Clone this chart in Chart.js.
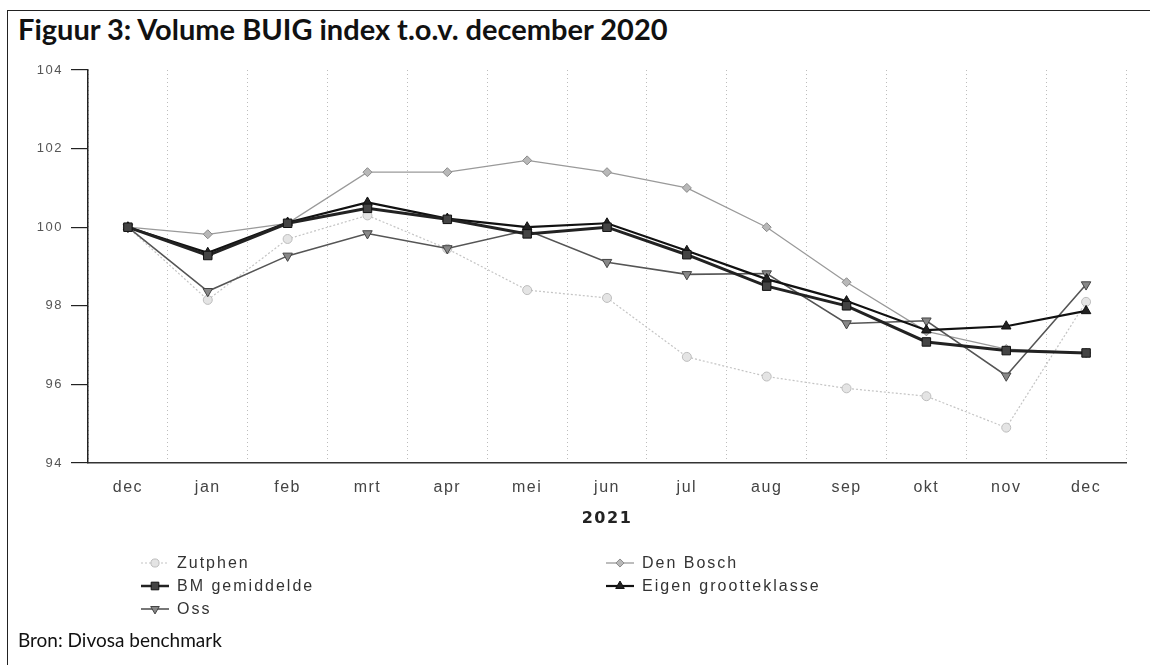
<!DOCTYPE html>
<html>
<head>
<meta charset="utf-8">
<script src="https://cdn.jsdelivr.net/npm/chart.js@4"></script>
<style>
  html, body { margin:0; padding:0; background:#fff; }
  #wrap { position:relative; width:1150px; height:665px; overflow:hidden; }
  #frame { position:absolute; left:7px; top:10px; width:1160px; height:670px; border:1.5px solid #222; box-sizing:border-box; }
  #title { position:absolute; left:18px; top:11px; font-family:Lato, 'Open Sans', sans-serif; font-weight:700; font-size:29px; color:#111; white-space:nowrap; }
  #source { position:absolute; left:18px; top:628px; font-family:Lato, 'Open Sans', sans-serif; font-size:19px; color:#111; white-space:nowrap; }
  canvas { position:absolute; left:0; top:0; }
</style>
</head>
<body>
<div id="wrap">
  <div id="frame"></div>
  <div id="title">Figuur 3: Volume BUIG index t.o.v. december 2020</div>
  <canvas id="c" width="1150" height="665"></canvas>
  <div id="source">Bron: Divosa benchmark</div>
</div>
<script>
const categories = ['dec','jan','feb','mrt','apr','mei','jun','jul','aug','sep','okt','nov','dec'];
const xAxisTitle = '2021';
const yTicks = [94, 96, 98, 100, 102, 104];

const zutphen    = [100, 98.15, 99.7, 100.3, 99.45, 98.4, 98.2, 96.7, 96.2, 95.9, 95.7, 94.9, 98.1];
const denBosch   = [100, 99.82, 100.1, 101.4, 101.4, 101.7, 101.4, 101.0, 100.0, 98.6, 97.35, 96.9, 96.8];
const bmGemidd   = [100, 99.28, 100.1, 100.48, 100.2, 99.83, 100.0, 99.3, 98.5, 98.0, 97.08, 96.86, 96.8];
const eigenGroot = [100, 99.35, 100.12, 100.63, 100.22, 100.0, 100.1, 99.4, 98.68, 98.12, 97.38, 97.48, 97.87];
const oss        = [100, 98.37, 99.27, 99.84, 99.46, 99.92, 99.11, 98.8, 98.82, 97.55, 97.62, 96.22, 98.54];

const seriesNames = ['Zutphen', 'Den Bosch', 'BM gemiddelde', 'Eigen grootteklasse', 'Oss'];

const datasets = [
  { label: seriesNames[0], data: zutphen, borderColor:'#c4c4c4', backgroundColor:'#e6e6e6', borderWidth:1.2, borderDash:[2,2],
    pointStyle:'circle', pointRadius:4.5, pointBorderColor:'#bdbdbd', pointBackgroundColor:'#e4e4e4', pointBorderWidth:1, order:4 },
  { label: seriesNames[1], data: denBosch, borderColor:'#9a9a9a', backgroundColor:'#b0b0b0', borderWidth:1.3,
    pointStyle:'rectRot', pointRadius:4.5, pointBorderColor:'#8a8a8a', pointBackgroundColor:'#b8b8b8', pointBorderWidth:1, order:3 },
  { label: seriesNames[2], data: bmGemidd, borderColor:'#222', backgroundColor:'#3a3a3a', borderWidth:3,
    pointStyle:'rect', pointRadius:6, pointBorderColor:'#111', pointBackgroundColor:'#444', pointBorderWidth:1, order:0 },
  { label: seriesNames[3], data: eigenGroot, borderColor:'#111', backgroundColor:'#111', borderWidth:2.2,
    pointStyle:'triangle', pointRadius:5.5, pointBorderColor:'#111', pointBackgroundColor:'#222', pointBorderWidth:1, order:1 },
  { label: seriesNames[4], data: oss, borderColor:'#555', backgroundColor:'#777', borderWidth:1.6,
    pointStyle:'triangle', pointRotation:180, rotation:180, pointRadius:5.5, pointBorderColor:'#444', pointBackgroundColor:'#888', pointBorderWidth:1, order:2 }
];
datasets.forEach(d => { d.tension = 0; d.fill = false; });

const legendPlugin = {
  id: 'customLegend',
  afterDraw(chart) {
    const ctx = chart.ctx;
    ctx.save();
    chart.data.datasets.forEach((ds, i) => {
      const col = i % 2, row = Math.floor(i / 2);
      const x = col ? 620 : 155;
      const y = 563 + row * 23;
      ctx.save();
      ctx.strokeStyle = ds.borderColor;
      ctx.lineWidth = Math.min(ds.borderWidth, 2.5);
      ctx.setLineDash(ds.borderDash || []);
      ctx.beginPath(); ctx.moveTo(x - 14, y); ctx.lineTo(x + 14, y); ctx.stroke();
      ctx.setLineDash([]);
      ctx.fillStyle = ds.pointBackgroundColor;
      ctx.strokeStyle = ds.pointBorderColor;
      ctx.lineWidth = 1;
      Chart.helpers.drawPoint(ctx, { pointStyle: ds.pointStyle, rotation: ds.pointRotation || 0, radius: ds.pointRadius * 0.9, borderWidth: 1 }, x, y);
      ctx.restore();
      ctx.fillStyle = '#333';
      ctx.font = '16px "Liberation Sans", Arial, sans-serif';
      ctx.letterSpacing = '2px';
      ctx.textBaseline = 'middle';
      ctx.textAlign = 'left';
      ctx.fillText(ds.label, x + 22, y + 1);
    });
    ctx.restore();
  }
};

const spacingPlugin = {
  id: 'spacing',
  beforeDraw(chart) { chart.ctx.letterSpacing = '1.5px'; },
  afterDatasetsDraw(chart) { chart.ctx.letterSpacing = '0px'; }
};

new Chart(document.getElementById('c'), {
  type: 'line',
  data: { labels: categories, datasets },
  options: {
    responsive: false,
    animation: false,
    devicePixelRatio: 1,
    layout: { padding: { left: 28, right: 24, top: 70, bottom: 125 } },
    plugins: { legend: { display: false }, tooltip: { enabled: false } },
    scales: {
      x: {
        type: 'category',
        offset: true,
        grid: { display: true, offset: true, drawTicks: false, color: '#bdbdbd', lineWidth: 1 },
        border: { display: true, color: '#333', width: 1.5, dash: [1, 3] },
        ticks: { padding: 15, color: '#444', font: { family: '"Liberation Sans", Arial, sans-serif', size: 16 } },
        title: { display: true, text: xAxisTitle, color: '#222', padding: { top: 4, bottom: 12 }, font: { family: '"DejaVu Sans", sans-serif', size: 16, weight: 'bold' } },
        afterFit(s) { s.height = 77; }
      },
      y: {
        min: 94, max: 104,
        afterBuildTicks(s) { s.ticks = yTicks.map(v => ({ value: v })); },
        grid: { display: true, drawOnChartArea: false, drawTicks: true, tickLength: 17, color: '#222', lineWidth: 1.2 },
        border: { display: true, color: '#222', width: 1.5 },
        ticks: { padding: 8, color: '#555', font: { family: '"Liberation Sans", Arial, sans-serif', size: 13 } },
        afterFit(s) { s.width = 60; }
      }
    }
  },
  plugins: [spacingPlugin, legendPlugin]
});
</script>
</body>
</html>
